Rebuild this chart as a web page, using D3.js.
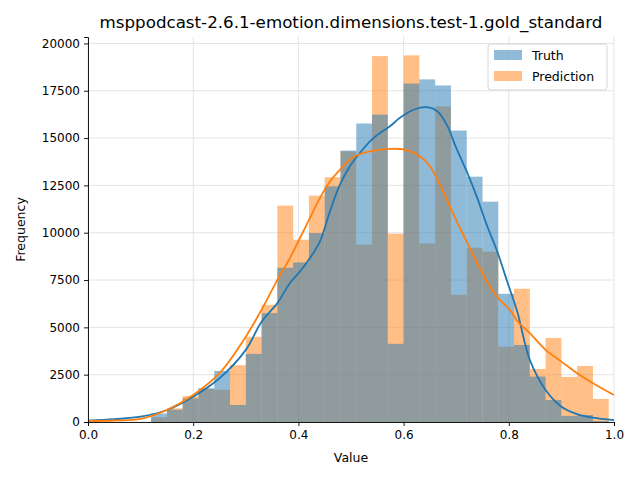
<!DOCTYPE html>
<html>
<head>
<script src="https://d3js.org/d3.v7.min.js"></script>
<style>
    body { margin: 0; background: #fff; font-family: "DejaVu Sans", sans-serif; }
    .grid line { stroke: #dddddd; stroke-width: 0.8; }
    .axis text { font-size: 12px; fill: #000; font-family: "DejaVu Sans", sans-serif; }
</style>
</head>
<body>
<div id="chart"></div>
<script>
// histogram bins (left edges), bin width 0.03
var binEdges = [0.12, 0.15, 0.18, 0.21, 0.24, 0.27, 0.30, 0.33, 0.36, 0.39,
                0.42, 0.45, 0.48, 0.51, 0.54, 0.57, 0.60, 0.63, 0.66, 0.69,
                0.72, 0.75, 0.78, 0.81, 0.84, 0.87, 0.90, 0.93, 0.96];
var binWidth = 0.03;

var truthCounts = [450, 650, 1250, 1780, 2700, 900, 3600, 5750, 8150, 8430,
                   9980, 12450, 14340, 15770, 16240, 4130, 17880, 18100, 17780, 15400,
                   12960, 11640, 6770, 4070, 2400, 1160, 320, 370, 50];
var predCounts = [250, 720, 1370, 1760, 1700, 3000, 4500, 6190, 11430, 9630,
                  11960, 12930, 14300, 9370, 19330, 9950, 19370, 9430, 16670, 6720,
                  9210, 9000, 3980, 7040, 2800, 4440, 2380, 2960, 1220];

// kde curves
var truthKdeX = [0.0, 0.05, 0.1, 0.15, 0.2, 0.25, 0.3, 0.33, 0.36, 0.384, 0.403, 0.422, 0.441,
                 0.46, 0.479, 0.498, 0.517, 0.536, 0.555, 0.574, 0.593, 0.62, 0.645, 0.664, 0.682,
                 0.70, 0.72, 0.74, 0.758, 0.778, 0.797, 0.816, 0.84, 0.87, 0.9, 0.93, 0.96, 1.0];
var truthKdeY = [70, 150, 280, 635, 1340, 2310, 3810, 5300, 6280, 7340, 7950, 8660, 9540,
                 11130, 12540, 13510, 14220, 14830, 15270, 15620, 16070, 16510, 16630, 16420, 15710,
                 14480, 13240, 11840, 10420, 9010, 7420, 5840, 3280, 1690, 810, 420, 230, 100];
var predKdeX = [0.0, 0.05, 0.1, 0.15, 0.2, 0.25, 0.3, 0.33, 0.36, 0.384, 0.403, 0.422, 0.441,
                0.46, 0.479, 0.498, 0.517, 0.536, 0.574, 0.6, 0.631, 0.65, 0.669, 0.688, 0.707,
                0.726, 0.745, 0.764, 0.783, 0.802, 0.817, 0.84, 0.87, 0.9, 0.93, 0.96, 1.0];
var predKdeY = [50, 80, 170, 635, 1430, 2580, 4510, 5930, 7510, 8660, 9720, 10780, 11840,
                12710, 13330, 13860, 14160, 14300, 14430, 14400, 14040, 13510, 12540, 11390, 10250,
                9190, 8130, 7160, 6450, 5930, 5310, 4690, 3810, 3190, 2580, 2050, 1430];

var xTicks = [0.0, 0.2, 0.4, 0.6, 0.8, 1.0];
var yTicks = [0, 2500, 5000, 7500, 10000, 12500, 15000, 17500, 20000];

var seriesNames = ["Truth", "Prediction"];
var colors = {"Truth": "#1f77b4", "Prediction": "#ff7f0e"};

var W = 640, H = 480;
var margin = {top: 37, right: 26, bottom: 58, left: 88};
var width = W - margin.left - margin.right,
    height = H - margin.top - margin.bottom;

var svg = d3.select("#chart").append("svg")
    .attr("width", W).attr("height", H);

var g = svg.append("g")
    .attr("transform", "translate(" + margin.left + "," + margin.top + ")");

var x = d3.scaleLinear().domain([0, 1]).range([0, width]);
var y = d3.scaleLinear().domain([0, 20340]).range([height, 0]);

// grid
g.append("g").attr("class", "grid")
    .selectAll("line").data(yTicks).enter().append("line")
    .attr("x1", 0).attr("x2", width)
    .attr("y1", function(d) { return y(d); }).attr("y2", function(d) { return y(d); });
g.append("g").attr("class", "grid")
    .selectAll("line").data(xTicks).enter().append("line")
    .attr("y1", 0).attr("y2", height)
    .attr("x1", function(d) { return x(d); }).attr("x2", function(d) { return x(d); });

// bars: prediction underneath, truth on top
function drawBars(counts, color) {
    g.append("g").selectAll("rect").data(counts).enter().append("rect")
        .attr("x", function(d, i) { return x(binEdges[i]); })
        .attr("width", function(d, i) { return x(binEdges[i] + binWidth) - x(binEdges[i]); })
        .attr("y", function(d) { return y(d); })
        .attr("height", function(d) { return y(0) - y(d); })
        .attr("fill", color)
        .attr("fill-opacity", 0.5);
}
drawBars(predCounts, colors["Prediction"]);
drawBars(truthCounts, colors["Truth"]);

// kde lines
var line = d3.line()
    .x(function(d) { return x(d[0]); })
    .y(function(d) { return y(d[1]); })
    .curve(d3.curveCatmullRom);

g.append("path")
    .attr("d", line(d3.zip(truthKdeX, truthKdeY)))
    .attr("fill", "none").attr("stroke", colors["Truth"]).attr("stroke-width", 1.8);
g.append("path")
    .attr("d", line(d3.zip(predKdeX, predKdeY)))
    .attr("fill", "none").attr("stroke", colors["Prediction"]).attr("stroke-width", 1.8);

// axes
var xAxis = d3.axisBottom(x).tickValues(xTicks).tickFormat(d3.format(".1f")).tickSize(4).tickPadding(4);
var yAxis = d3.axisLeft(y).tickValues(yTicks).tickFormat(d3.format("d")).tickSize(4).tickPadding(4);

g.append("g").attr("class", "axis")
    .attr("transform", "translate(0," + height + ")")
    .call(xAxis);
g.append("g").attr("class", "axis")
    .call(yAxis);
g.selectAll(".axis path, .axis line").attr("stroke", "#000").attr("stroke-width", 0.9);

// labels
svg.append("text")
    .attr("x", margin.left + width / 2).attr("y", 28)
    .attr("text-anchor", "middle")
    .style("font-size", "16.7px")
    .text("msppodcast-2.6.1-emotion.dimensions.test-1.gold_standard");

svg.append("text")
    .attr("x", margin.left + width / 2).attr("y", 462)
    .attr("text-anchor", "middle")
    .style("font-size", "12.5px")
    .text("Value");

svg.append("text")
    .attr("transform", "translate(25," + (margin.top + height / 2) + ") rotate(-90)")
    .attr("text-anchor", "middle")
    .style("font-size", "12.5px")
    .text("Frequency");

// legend
var legend = svg.append("g").attr("transform", "translate(488,44)");
legend.append("rect")
    .attr("width", 119).attr("height", 46)
    .attr("rx", 3)
    .attr("fill", "#fff").attr("fill-opacity", 0.8)
    .attr("stroke", "#cccccc").attr("stroke-width", 0.8);
seriesNames.forEach(function(name, i) {
    legend.append("rect")
        .attr("x", 6).attr("y", 6 + i * 21)
        .attr("width", 28).attr("height", 10)
        .attr("fill", colors[name]).attr("fill-opacity", 0.5);
    legend.append("text")
        .attr("x", 44).attr("y", 16 + i * 21)
        .style("font-size", "12.5px")
        .text(name);
});
</script>
</body>
</html>
